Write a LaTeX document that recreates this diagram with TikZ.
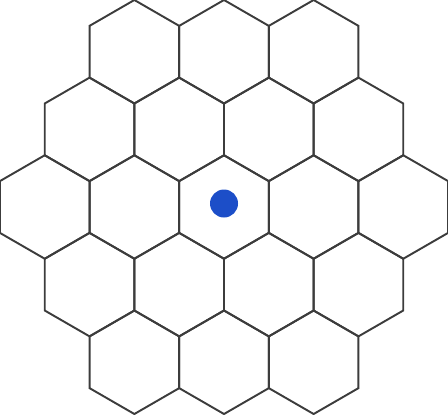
\documentclass[tikz,border=0pt]{standalone}
\usepackage{tikz}
\usetikzlibrary{shapes.geometric}
\definecolor{hexGray}{RGB}{60,60,60}
\definecolor{dotBlue}{RGB}{28,78,200}
\tikzset{
  hexcell/.style={
    regular polygon, regular polygon sides=6, shape border rotate=30,
    draw=hexGray, line width=1.1pt, minimum size=2.07cm,
    inner sep=0pt, outer sep=0pt
  },
  centerdot/.style={circle, fill=dotBlue, minimum size=0.56cm, inner sep=0pt}
}
\begin{document}
\begin{tikzpicture}
  \useasboundingbox (0,0) rectangle (8.96,8.28);
  % rows of 3,4,5,4,3 cells
  \foreach \r in {-2,...,2} {
    \pgfmathtruncatemacro{\n}{5-abs(\r)}
    \pgfmathtruncatemacro{\row}{\r+3}
    \foreach \k in {1,...,\n} {
      \node[hexcell] (hex-\row-\k) at ({4.48+(\k-(\n+1)/2)*1.7927}, {4.14-\r*1.5525}) {};
    }
  }
  \node[centerdot] (dot) at ([yshift=0.07cm]hex-3-3.center) {};
\end{tikzpicture}
\end{document}
